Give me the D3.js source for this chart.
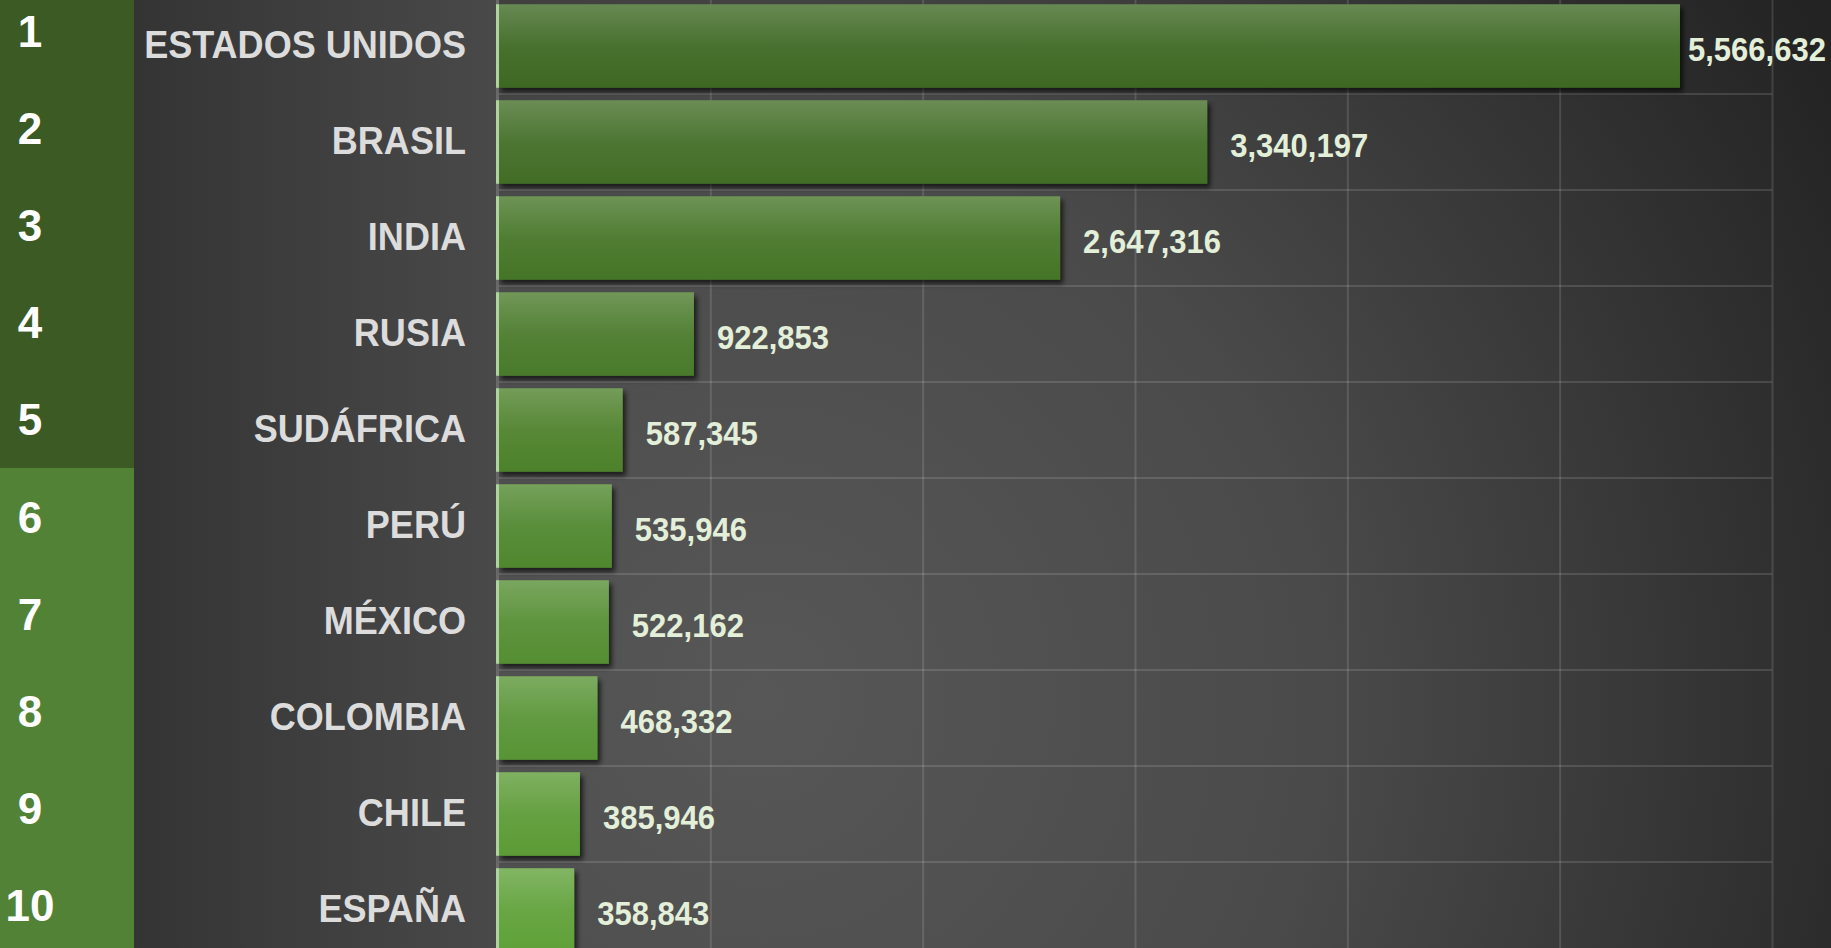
<!DOCTYPE html>
<html>
<head>
<meta charset="utf-8">
<script src="https://cdn.jsdelivr.net/npm/d3@7"></script>
<style>
  html, body { margin: 0; padding: 0; background: #262626; overflow: hidden; }
  svg { display: block; font-family: 'Liberation Sans', Arial, sans-serif; font-weight: bold; }
</style>
</head>
<body>
<div id="wrapper"></div>
<script>
// data
const ranks = ['1', '2', '3', '4', '5', '6', '7', '8', '9', '10']
const countries = ['ESTADOS UNIDOS', 'BRASIL', 'INDIA', 'RUSIA', 'SUDÁFRICA', 'PERÚ', 'MÉXICO', 'COLOMBIA', 'CHILE', 'ESPAÑA']
const cases = [5566632, 3340197, 2647316, 922853, 587345, 535946, 522162, 468332, 385946, 358843]
const xTicks = [0, 1000000, 2000000, 3000000, 4000000, 5000000, 6000000]

function drawChart() {
  const dataset = countries.map((c, i) => ({ rank: ranks[i], country: c, value: cases[i] }))

  const dimensions = {
    width: 1831,
    height: 948,
    rankWidth: 134,
    labelRight: 496,
    plotLeft: 498,
    plotRight: 1772,
  }

  const svg = d3.select('#wrapper')
    .append('svg')
    .attr('width', dimensions.width)
    .attr('height', dimensions.height)

  const defs = svg.append('defs')

  const bg = defs.append('radialGradient')
    .attr('id', 'plot-bg')
    .attr('gradientUnits', 'userSpaceOnUse')
    .attr('cx', 760).attr('cy', 700).attr('r', 1250)
  bg.append('stop').attr('offset', 0).attr('stop-color', '#575757')
  bg.append('stop').attr('offset', 0.45).attr('stop-color', '#4a4a4a')
  bg.append('stop').attr('offset', 1).attr('stop-color', '#232323')

  const labelBg = defs.append('linearGradient')
    .attr('id', 'label-bg')
    .attr('x1', 0).attr('x2', 1).attr('y1', 0).attr('y2', 0)
  labelBg.append('stop').attr('offset', 0).attr('stop-color', '#343434')
  labelBg.append('stop').attr('offset', 1).attr('stop-color', '#494949')

  const gloss = defs.append('linearGradient')
    .attr('id', 'bar-gloss')
    .attr('x1', 0).attr('x2', 0).attr('y1', 0).attr('y2', 1)
  gloss.append('stop').attr('offset', 0).attr('stop-color', '#fff').attr('stop-opacity', 0.22)
  gloss.append('stop').attr('offset', 0.15).attr('stop-color', '#fff').attr('stop-opacity', 0.17)
  gloss.append('stop').attr('offset', 0.5).attr('stop-color', '#fff').attr('stop-opacity', 0.06)
  gloss.append('stop').attr('offset', 1).attr('stop-color', '#fff').attr('stop-opacity', 0)

  defs.append('filter')
    .attr('id', 'bar-shadow')
    .attr('x', '-5%').attr('y', '-20%').attr('width', '120%').attr('height', '150%')
    .append('feDropShadow')
    .attr('dx', 3).attr('dy', 4).attr('stdDeviation', 2.5)
    .attr('flood-color', '#000').attr('flood-opacity', 0.65)

  // scales
  const xScale = d3.scaleLinear()
    .domain([0, 6000000])
    .range([dimensions.plotLeft, dimensions.plotRight])

  const yScale = d3.scaleBand()
    .domain(countries)
    .range([-2, 958])
    .paddingInner(0.13)
    .paddingOuter(0.065)

  const rankScale = d3.scaleBand()
    .domain(ranks)
    .range([-17.5, 953.5])

  const barColor = d3.scaleLinear()
    .domain([0, countries.length - 1])
    .range(['#3e6722', '#5fa139'])

  // backgrounds
  svg.append('rect')
    .attr('x', dimensions.labelRight).attr('y', 0)
    .attr('width', dimensions.width - dimensions.labelRight)
    .attr('height', dimensions.height)
    .attr('fill', 'url(#plot-bg)')

  svg.append('rect')
    .attr('x', dimensions.rankWidth).attr('y', 0)
    .attr('width', dimensions.labelRight - dimensions.rankWidth)
    .attr('height', dimensions.height)
    .attr('fill', 'url(#label-bg)')

  // rank column
  const rankGroup = svg.append('g')
  rankGroup.selectAll('rect')
    .data(dataset)
    .join('rect')
    .attr('x', 0)
    .attr('y', (d) => rankScale(d.rank))
    .attr('width', dimensions.rankWidth)
    .attr('height', rankScale.step() + 1)
    .attr('fill', (d, i) => (i < 5 ? '#3b5a24' : '#528236'))

  rankGroup.selectAll('text')
    .data(dataset)
    .join('text')
    .attr('x', 30)
    .attr('y', (d) => rankScale(d.rank) + rankScale.bandwidth() / 2 + 16)
    .attr('text-anchor', 'middle')
    .attr('fill', '#ffffff')
    .style('font-size', '44px')
    .text((d) => d.rank)

  // gridlines
  const xGrid = d3.axisTop(xScale)
    .tickValues(xTicks.slice(1))
    .tickSize(-dimensions.height)
    .tickFormat('')
  svg.append('g')
    .attr('class', 'x-grid')
    .call(xGrid)
    .call((g) => g.select('.domain').remove())
    .call((g) => g.selectAll('line')
      .attr('stroke', '#ffffff')
      .attr('stroke-opacity', 0.13)
      .attr('stroke-width', 2))

  const rowEdges = countries.map((c) => yScale(c) - (yScale.step() * yScale.paddingInner()) / 2)
  svg.append('g')
    .selectAll('line')
    .data(rowEdges.slice(1))
    .join('line')
    .attr('x1', dimensions.plotLeft)
    .attr('x2', dimensions.plotRight)
    .attr('y1', (d) => d)
    .attr('y2', (d) => d)
    .attr('stroke', '#ffffff')
    .attr('stroke-opacity', 0.13)
    .attr('stroke-width', 2)

  // axis line
  svg.append('line')
    .attr('x1', xScale(0) - 0.5).attr('x2', xScale(0) - 0.5)
    .attr('y1', 0).attr('y2', dimensions.height)
    .attr('stroke', '#6a6a6a')
    .attr('stroke-width', 3)

  // bars
  const bars = svg.append('g')
    .selectAll('g')
    .data(dataset)
    .join('g')

  bars.append('rect')
    .attr('x', xScale(0))
    .attr('y', (d) => yScale(d.country))
    .attr('width', (d) => xScale(d.value) - xScale(0))
    .attr('height', yScale.bandwidth())
    .attr('fill', (d, i) => barColor(i))
    .attr('filter', 'url(#bar-shadow)')

  bars.append('rect')
    .attr('x', xScale(0))
    .attr('y', (d) => yScale(d.country))
    .attr('width', (d) => xScale(d.value) - xScale(0))
    .attr('height', yScale.bandwidth())
    .attr('fill', 'url(#bar-gloss)')

  bars.append('rect')
    .attr('x', xScale(0) - 2)
    .attr('y', (d) => yScale(d.country))
    .attr('width', 3)
    .attr('height', yScale.bandwidth())
    .attr('fill', '#afd39e')

  // country labels
  svg.append('g')
    .selectAll('text')
    .data(dataset)
    .join('text')
    .attr('transform', (d) => `translate(466, ${yScale(d.country) + yScale.bandwidth() / 2 + 12}) scale(0.925, 1)`)
    .attr('text-anchor', 'end')
    .attr('fill', '#dcdcdc')
    .style('font-size', '39px')
    .text((d) => d.country)

  // value labels
  const formatValue = d3.format(',')
  const valueScaleX = 0.94
  const rightLimit = 1826
  svg.append('g')
    .selectAll('text')
    .data(dataset)
    .join('text')
    .attr('fill', '#e3efd9')
    .style('font-size', '33px')
    .text((d) => formatValue(d.value))
    .attr('transform', function (d) {
      const w = this.getComputedTextLength() * valueScaleX
      const x = Math.min(xScale(d.value) + 23, rightLimit - w)
      const y = yScale(d.country) + yScale.bandwidth() / 2 + 15
      return `translate(${x}, ${y}) scale(${valueScaleX}, 1)`
    })
}
drawChart()
</script>
</body>
</html>
